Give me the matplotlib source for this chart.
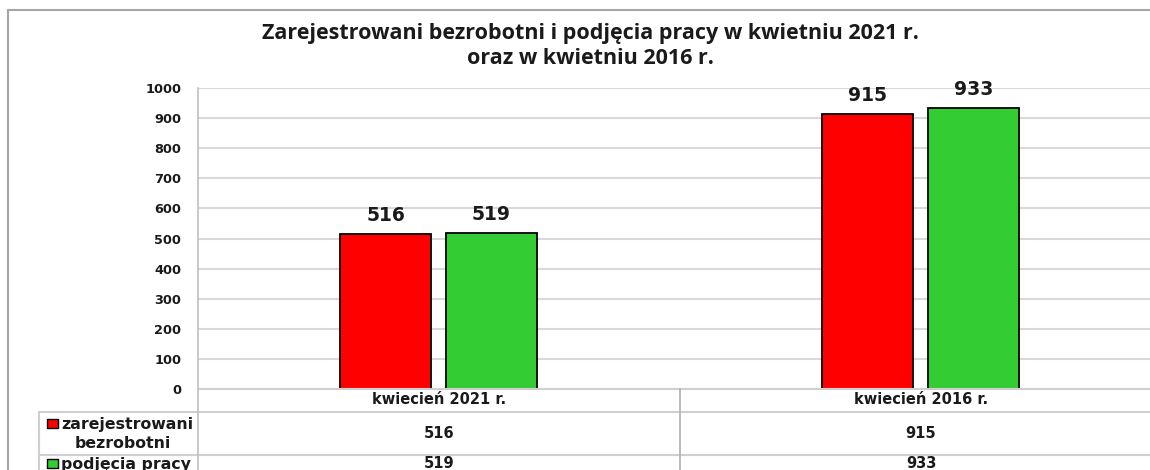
import matplotlib
matplotlib.use("Agg")
import matplotlib.pyplot as plt
from matplotlib.lines import Line2D
from matplotlib.patches import Rectangle
from matplotlib import transforms

# ---- data ----
categories = ["kwiecień 2021 r.", "kwiecień 2016 r."]
series_names = ["zarejestrowani\nbezrobotni", "podjęcia pracy"]
registered = [516, 915]
job_starts = [519, 933]
series_values = [registered, job_starts]
series_colors = ["#FF0000", "#33CC33"]
title_text = "Zarejestrowani bezrobotni i podjęcia pracy w kwietniu 2021 r.\noraz w kwietniu 2016 r."
yticks = list(range(0, 1001, 100))

W, H = 1150, 470
fig = plt.figure(figsize=(W / 100, H / 100), dpi=100)
fig.patch.set_facecolor("white")

def fx(px):
    return px / W

def fy(py):
    return 1 - py / H

ax = fig.add_axes([fx(198), fy(389), fx(1150) - fx(198), fy(88) - fy(389)])
ax.set_xlim(-0.5, 1.475)
ax.set_ylim(0, 1000)

grid_c = "#d9d9d9"
ax.set_yticks(yticks)
ax.set_yticklabels([str(t) for t in yticks], fontsize=9.3, fontweight="bold",
                   family="DejaVu Sans", color="#1a1a1a")
ax.tick_params(axis="y", length=0, pad=12)
ax.set_xticks([])
ax.grid(axis="y", color=grid_c, linewidth=1.5)
ax.set_axisbelow(True)
for s in ["top", "right", "bottom"]:
    ax.spines[s].set_visible(False)
ax.spines["left"].set_color("#c0c0c0")
ax.spines["left"].set_linewidth(1.2)

x = list(range(len(categories)))
width = 0.19
offsets = [-0.111, 0.109]
for vals, col, off in zip(series_values, series_colors, offsets):
    xs = [xi + off for xi in x]
    ax.bar(xs, vals, width=width, color=col, edgecolor="black", linewidth=1.3, zorder=3)
    for xi, v in zip(xs, vals):
        ax.annotate(str(v), (xi, v), xytext=(0, 6.5), textcoords="offset points",
                    ha="center", va="bottom", fontsize=13.5, fontweight="bold",
                    family="DejaVu Sans", color="#1a1a1a")

# ---- title ----
fig.text(fx(590), fy(46), title_text, ha="center", va="center", fontsize=15.5,
         fontweight="bold", family="Open Sans", color="#1a1a1a", linespacing=1.2)

# ---- outer border ----
border_c = "#a6a6a6"
fig.add_artist(Line2D([fx(8), fx(8)], [fy(10), fy(470)], color=border_c, lw=1.5))
fig.add_artist(Line2D([fx(8), fx(1150)], [fy(10), fy(10)], color=border_c, lw=1.5))

# ---- data table ----
tbl_c = "#d0d0d0"
blend = transforms.blended_transform_factory(ax.transData, fig.transFigure)
fig.add_artist(Line2D([fx(198), fx(1150)], [fy(389), fy(389)], color=tbl_c, lw=1.5))
fig.add_artist(Line2D([fx(39), fx(1150)], [fy(412), fy(412)], color=tbl_c, lw=1.5))
fig.add_artist(Line2D([fx(39), fx(1150)], [fy(455), fy(455)], color=tbl_c, lw=1.5))
fig.add_artist(Line2D([fx(39), fx(39)], [fy(412), fy(470)], color=tbl_c, lw=1.5))
fig.add_artist(Line2D([fx(198), fx(198)], [fy(389), fy(470)], color="#c0c0c0", lw=1.2))
for b in [i + 0.5 for i in x[:-1]]:
    fig.add_artist(Line2D([b, b], [fy(389), fy(470)], color="#b0b0b0", lw=1.2,
                          transform=blend))

tfont = dict(fontsize=10.5, fontweight="bold", family="DejaVu Sans", color="#1a1a1a")
lfont = dict(fontsize=11.3, fontweight="bold", family="DejaVu Sans", color="#1a1a1a")
for xi, c in zip(x, categories):
    fig.text(xi, fy(400), c, ha="center", va="center", transform=blend, **tfont)

row_y = [434, 464]
for vals, ry in zip(series_values, row_y):
    for xi, v in zip(x, vals):
        fig.text(xi, fy(ry), str(v), ha="center", va="center", transform=blend, **tfont)

fig.add_artist(Rectangle((fx(47), fy(428)), fx(11), fy(419) - fy(428),
                         facecolor=series_colors[0], edgecolor="black", lw=1.0))
fig.text(fx(61), fy(424), series_names[0].split("\n")[0], ha="left", va="center", **lfont)
fig.text(fx(123), fy(443), series_names[0].split("\n")[1], ha="center", va="center", **lfont)
fig.add_artist(Rectangle((fx(47), fy(468)), fx(11), fy(459) - fy(468),
                         facecolor=series_colors[1], edgecolor="black", lw=1.0))
fig.text(fx(61), fy(464), series_names[1], ha="left", va="center", **lfont)

fig.savefig("out.png", dpi=100)
